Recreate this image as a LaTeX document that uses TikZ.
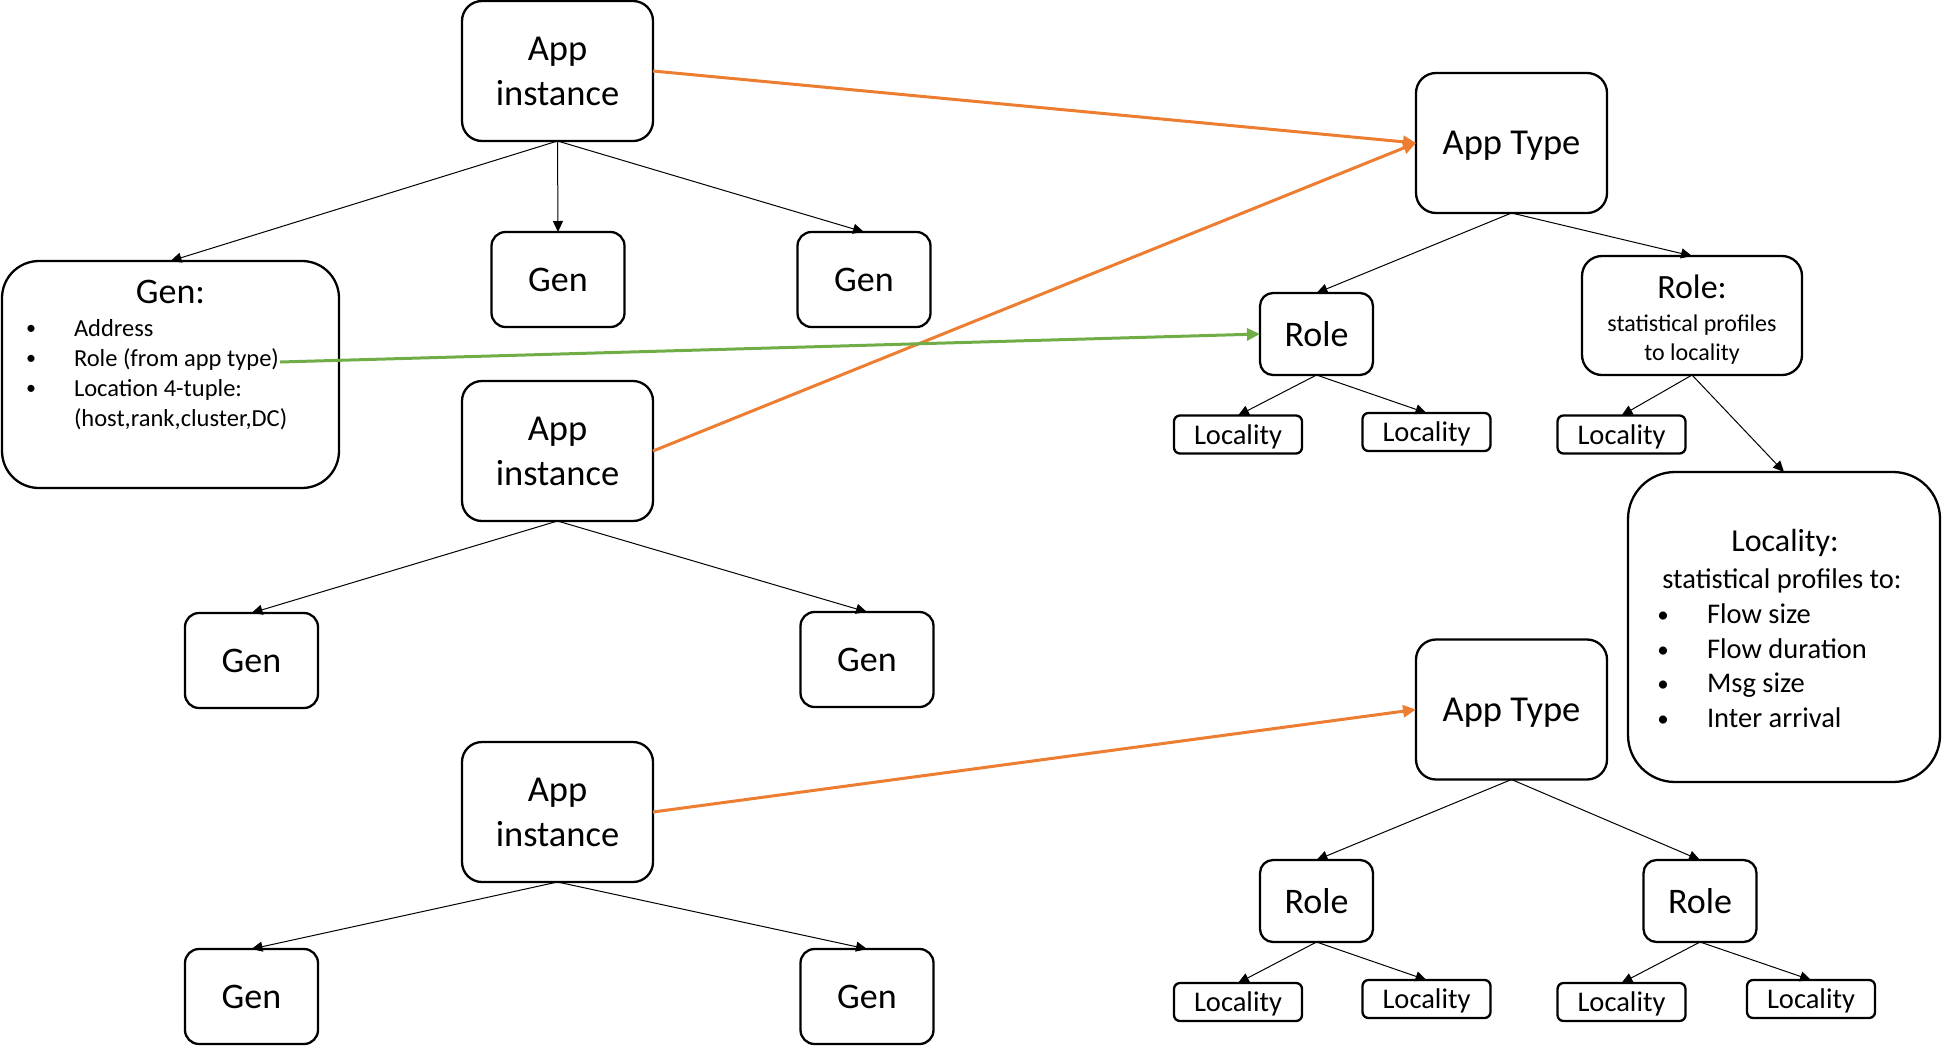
\documentclass[tikz,border=0pt]{standalone}
\usepackage{fontspec}
\setmainfont{Carlito}
\usetikzlibrary{arrows.meta}
\definecolor{orng}{HTML}{ED7D31}
\definecolor{grn}{HTML}{70AD47}
\begin{document}
\begin{tikzpicture}[x=1pt,y=-1pt,
  every node/.style={inner sep=0pt, outer sep=0pt},
  frame/.style={draw=black, line width=2.3pt, fill=white},
  appbox/.style={frame, rounded corners=20pt, minimum width=191pt, minimum height=140pt, align=center, font=\fontsize{36.5}{45}\selectfont},
  typebox/.style={frame, rounded corners=20pt, minimum width=191pt, minimum height=140pt, text depth=0pt, font=\fontsize{36.5}{45}\selectfont},
  genbox/.style={frame, rounded corners=14pt, minimum width=133pt, minimum height=95pt, text depth=0pt, font=\fontsize{36}{44}\selectfont},
  rolebox/.style={frame, rounded corners=13pt, minimum width=113pt, minimum height=82pt, text depth=0pt, font=\fontsize{36}{44}\selectfont},
  locbox/.style={frame, rounded corners=6pt, minimum width=128pt, minimum height=38pt, text depth=0pt, font=\fontsize{28.5}{35}\selectfont},
  conn/.style={line width=1pt, -{Triangle[length=11pt,width=10pt]}},
  oarrow/.style={draw=orng, line width=3pt, -{Triangle[length=13pt,width=12pt]}},
  garrow/.style={draw=grn, line width=3pt, -{Triangle[length=13pt,width=12pt]}},
  itemA/.style={anchor=base west, font=\fontsize{24.5}{30}\selectfont},
  bulA/.style={anchor=base, font=\fontsize{20}{24}\selectfont},
  itemB/.style={anchor=base west, font=\fontsize{28.5}{35}\selectfont},
  bulB/.style={anchor=base, font=\fontsize{23}{28}\selectfont}
]
\useasboundingbox (0,0) rectangle (1942,1045);

% ---------- left column ----------
\node[appbox] (appA) at (557.5,71) {App\\instance};
\node[genbox] (genM) at (558,279.5) {Gen};
\node[genbox] (genR) at (864,279.5) {Gen};
\node[frame, rounded corners=37pt, minimum width=337pt, minimum height=227pt] (genInfo) at (170.5,374.5) {};
\node[anchor=base, font=\fontsize{36}{44}\selectfont] (genTitle) at (170.5,303) {Gen:};
\node[bulA] (gb1) at (31,334.5) {•};
\node[bulA] (gb2) at (31,364.5) {•};
\node[bulA] (gb3) at (31,394.5) {•};
\node[itemA] (gi1) at (74,336) {Address};
\node[itemA] (gi2) at (74,366) {Role (from app type)};
\node[itemA] (gi3) at (74,396) {Location 4-tuple:};
\node[itemA] (gi4) at (74,426) {(host,rank,cluster,DC)};
\coordinate (gstart) at (280,362);

\node[appbox] (appB) at (557.5,451) {App\\instance};
\node[genbox] (genBL) at (251.5,660.5) {Gen};
\node[genbox] (genBR) at (867,659.5) {Gen};

\node[appbox] (appC) at (557.5,812) {App\\instance};
\node[genbox] (genCL) at (251.5,996.5) {Gen};
\node[genbox] (genCR) at (867,996.5) {Gen};

% ---------- right column, top ----------
\node[typebox] (typeA) at (1511.5,143) {App Type};
\node[rolebox] (roleA) at (1316.5,334) {Role};
\node[frame, rounded corners=20pt, minimum width=220pt, minimum height=119pt] (roleInfo) at (1692,315.5) {};
\node[anchor=base, font=\fontsize{34}{40}\selectfont] (roleTitle) at (1692,298) {Role:};
\node[anchor=base, font=\fontsize{24}{29}\selectfont] (roleL1) at (1692,331) {statistical profiles};
\node[anchor=base, font=\fontsize{24}{29}\selectfont] (roleL2) at (1692,360) {to locality};
\node[locbox] (locA1) at (1238,434.5) {Locality};
\node[locbox] (locA2) at (1426.5,432) {Locality};
\node[locbox] (locS1) at (1621.5,434.5) {Locality};

\node[frame, rounded corners=47pt, minimum width=312pt, minimum height=310pt] (locInfo) at (1784,627) {};
\node[anchor=base, font=\fontsize{32}{39}\selectfont] (locTitle) at (1785,551) {Locality:};
\node[anchor=base, font=\fontsize{28.5}{35}\selectfont] (locSub) at (1782,588) {statistical profiles to:};
\node[bulB] (lb1) at (1663,622) {•};
\node[bulB] (lb2) at (1663,657) {•};
\node[bulB] (lb3) at (1663,691) {•};
\node[bulB] (lb4) at (1663,726) {•};
\node[itemB] (li1) at (1707,623) {Flow size};
\node[itemB] (li2) at (1707,658) {Flow duration};
\node[itemB] (li3) at (1707,692) {Msg size};
\node[itemB] (li4) at (1707,727) {Inter arrival};

% ---------- right column, bottom ----------
\node[typebox] (typeB) at (1511.5,709.5) {App Type};
\node[rolebox] (roleB) at (1316.5,901) {Role};
\node[rolebox] (roleC) at (1700,901) {Role};
\node[locbox] (locB1) at (1238,1002) {Locality};
\node[locbox] (locB2) at (1426.5,999) {Locality};
\node[locbox] (locC1) at (1621.5,1002) {Locality};
\node[locbox] (locC2) at (1811,999) {Locality};

% ---------- connectors ----------
\draw[conn] (appA.south) -- (genInfo.north);
\draw[conn] (appA.south) -- (genM.north);
\draw[conn] (appA.south) -- (genR.north);
\draw[conn] (appB.south) -- (genBL.north);
\draw[conn] (appB.south) -- (genBR.north);
\draw[conn] (appC.south) -- (genCL.north);
\draw[conn] (appC.south) -- (genCR.north);

\draw[conn] (typeA.south) -- (roleA.north);
\draw[conn] (typeA.south) -- (roleInfo.north);
\draw[conn] (roleA.south) -- (locA1.north);
\draw[conn] (roleA.south) -- (locA2.north);
\draw[conn] (roleInfo.south) -- (locS1.north);
\draw[conn] (roleInfo.south) -- (locInfo.north);

\draw[conn] (typeB.south) -- (roleB.north);
\draw[conn] (typeB.south) -- (roleC.north);
\draw[conn] (roleB.south) -- (locB1.north);
\draw[conn] (roleB.south) -- (locB2.north);
\draw[conn] (roleC.south) -- (locC1.north);
\draw[conn] (roleC.south) -- (locC2.north);

\draw[oarrow] (appA.east) -- (typeA.west);
\draw[oarrow] (appB.east) -- (typeA.west);
\draw[oarrow] (appC.east) -- (typeB.west);
\draw[garrow] (gstart) -- (roleA.west);
\end{tikzpicture}
\end{document}
